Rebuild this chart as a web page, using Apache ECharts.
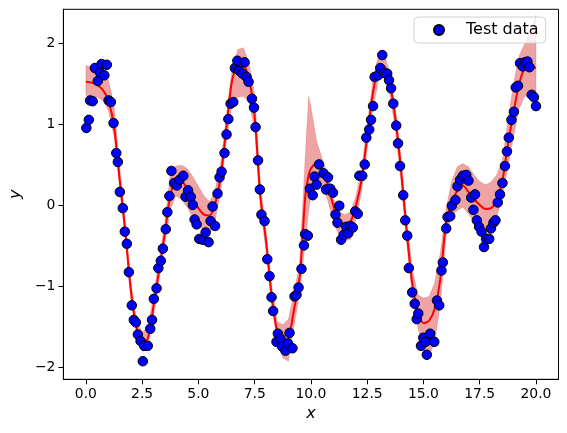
<!DOCTYPE html>
<html>
<head>
<meta charset="utf-8">
<script src="https://cdn.jsdelivr.net/npm/echarts@6/dist/echarts.min.js"></script>
<style>
  html, body { margin: 0; padding: 0; background: #fff; }
  #chart { width: 567px; height: 433px; }
</style>
</head>
<body>
<div id="chart"></div>
<script>
// test points
const testX = [0.02, 0.13, 0.19, 0.30, 0.40, 0.53, 0.62, 0.70, 0.82, 0.93, 1.01, 1.11, 1.23, 1.35, 1.42, 1.51, 1.64, 1.73, 1.82, 1.91,
  2.04, 2.13, 2.22, 2.31, 2.43, 2.53, 2.59, 2.75, 2.86, 2.94, 3.02, 3.14, 3.22, 3.33, 3.42, 3.55, 3.62, 3.71, 3.80, 3.92,
  4.04, 4.16, 4.33, 4.43, 4.54, 4.66, 4.75, 4.83, 4.92, 5.04, 5.19, 5.32, 5.45, 5.54, 5.63, 5.74, 5.85, 5.94, 6.03, 6.16,
  6.25, 6.33, 6.43, 6.55, 6.62, 6.73, 6.80, 6.96, 7.05, 7.14, 7.23, 7.38, 7.47, 7.54, 7.65, 7.73, 7.80, 7.94, 8.06, 8.16,
  8.25, 8.32, 8.47, 8.53, 8.65, 8.72, 8.87, 8.98, 9.05, 9.18, 9.27, 9.36, 9.45, 9.58, 9.69, 9.74, 9.86, 9.95, 10.08, 10.16,
  10.25, 10.36, 10.56, 10.67, 10.76, 10.86, 10.98, 11.09, 11.18, 11.26, 11.34, 11.46, 11.57, 11.66, 11.75, 11.86, 11.97, 12.08, 12.15, 12.28,
  12.39, 12.46, 12.59, 12.67, 12.76, 12.83, 12.98, 13.08, 13.17, 13.26, 13.39, 13.47, 13.56, 13.66, 13.79, 13.87, 13.96, 14.10, 14.19, 14.28,
  14.35, 14.50, 14.61, 14.70, 14.77, 14.89, 14.99, 15.10, 15.15, 15.30, 15.48, 15.60, 15.70, 15.80, 15.86, 16.01, 16.07, 16.19, 16.26, 16.42,
  16.51, 16.63, 16.75, 16.90, 17.00, 17.12, 17.22, 17.29, 17.37, 17.47, 17.58, 17.69, 17.78, 17.92, 18.00, 18.11, 18.20, 18.30, 18.40, 18.51,
  18.62, 18.71, 18.79, 18.91, 19.02, 19.10, 19.20, 19.29, 19.41, 19.51, 19.62, 19.71, 19.81, 19.91, 20.00];
const testY = [0.96, 1.06, 1.30, 1.29, 1.70, 1.54, 1.65, 1.75, 1.61, 1.74, 1.30, 1.28, 1.02, 0.65, 0.54, 0.17, -0.03, -0.32, -0.47, -0.82,
  -1.23, -1.41, -1.44, -1.59, -1.67, -1.92, -1.73, -1.73, -1.52, -1.41, -1.15, -1.02, -0.77, -0.68, -0.53, -0.29, -0.08, 0.12, 0.43, 0.28,
  0.25, 0.32, 0.37, 0.11, 0.19, 0.11, 0.01, -0.17, -0.23, -0.41, -0.42, -0.33, -0.45, -0.19, -0.01, -0.25, 0.15, 0.35, 0.42, 0.65,
  0.88, 1.07, 1.26, 1.28, 1.70, 1.79, 1.67, 1.63, 1.77, 1.59, 1.53, 1.32, 1.21, 0.97, 0.56, 0.20, -0.11, -0.19, -0.66, -0.87,
  -1.13, -1.30, -1.68, -1.58, -1.64, -1.74, -1.79, -1.70, -1.57, -1.76, -1.12, -1.10, -1.01, -0.78, -0.49, -0.35, -0.37, 0.21, 0.13, 0.36,
  0.26, 0.51, 0.40, 0.20, 0.35, 0.21, 0.16, -0.11, -0.21, 0.00, -0.42, -0.36, -0.26, -0.34, -0.25, -0.27, -0.07, -0.10, 0.37, 0.37,
  0.51, 0.84, 0.94, 1.06, 1.23, 1.59, 1.61, 1.70, 1.86, 1.64, 1.63, 1.55, 1.45, 1.26, 0.99, 0.77, 0.49, 0.13, -0.18, -0.37,
  -0.77, -1.07, -1.21, -1.40, -1.33, -1.73, -1.63, -1.68, -1.84, -1.58, -1.68, -1.17, -1.23, -0.80, -0.70, -0.28, -0.14, -0.13, 0.00, 0.07,
  0.24, 0.32, 0.37, 0.38, 0.31, 0.10, -0.05, 0.14, -0.18, -0.26, -0.32, -0.51, -0.41, -0.41, -0.28, -0.21, -0.18, 0.04, 0.14, 0.28,
  0.49, 0.67, 0.84, 1.06, 1.16, 1.46, 1.48, 1.76, 1.72, 1.77, 1.78, 1.71, 1.37, 1.34, 1.23];

// prediction: mean and band
const predX = [0, 0.25, 0.5, 0.75, 1, 1.25, 1.5, 1.75, 2, 2.25, 2.5, 2.75, 3, 3.25, 3.5, 3.75, 4, 4.25, 4.5, 4.75,
  5, 5.25, 5.5, 5.75, 6, 6.25, 6.5, 6.75, 7, 7.25, 7.5, 7.75, 8, 8.25, 8.5, 8.75, 9, 9.25, 9.5, 9.75,
  9.9, 10, 10.25, 10.5, 10.75, 11, 11.25, 11.5, 11.75, 12, 12.25, 12.5, 12.75, 13, 13.25, 13.5, 13.75, 14, 14.25, 14.5,
  14.75, 15, 15.25, 15.5, 15.75, 16, 16.25, 16.5, 16.75, 17, 17.25, 17.5, 17.75, 18, 18.25, 18.5, 18.75, 19, 19.25, 19.5,
  19.75, 20];
const predMean = [1.53, 1.52, 1.49, 1.43, 1.30, 0.98, 0.33, -0.31, -1.05, -1.50, -1.69, -1.64, -1.25, -0.80, -0.36, 0.12, 0.30, 0.30, 0.21, 0.08,
  -0.03, -0.11, -0.12, 0.03, 0.38, 0.98, 1.55, 1.71, 1.72, 1.56, 1.10, 0.12, -0.42, -1.10, -1.55, -1.68, -1.63, -1.28, -0.88, 0.12,
  0.38, 0.46, 0.52, 0.44, 0.26, 0.00, -0.18, -0.23, -0.20, 0.00, 0.32, 0.85, 1.38, 1.70, 1.72, 1.52, 1.08, 0.45, -0.30, -0.95,
  -1.30, -1.45, -1.42, -1.27, -0.90, -0.22, 0.05, 0.18, 0.25, 0.17, 0.08, 0.01, -0.04, -0.03, 0.07, 0.30, 0.75, 1.15, 1.50, 1.70,
  1.72, 1.70];
const predLower = [1.36, 1.36, 1.34, 1.30, 1.18, 0.86, 0.20, -0.42, -1.16, -1.60, -1.80, -1.76, -1.37, -0.92, -0.48, -0.05, 0.12, 0.08, -0.02, -0.15,
  -0.25, -0.31, -0.36, -0.18, 0.20, 0.82, 1.26, 1.34, 1.35, 1.28, 0.93, -0.02, -0.55, -1.23, -1.68, -1.88, -1.92, -1.48, -1.08, -0.45,
  -0.05, 0.12, 0.30, 0.25, 0.06, -0.20, -0.37, -0.43, -0.42, -0.17, 0.18, 0.70, 1.20, 1.55, 1.58, 1.38, 0.94, 0.30, -0.45, -1.12,
  -1.50, -1.80, -1.86, -1.68, -1.22, -0.38, -0.12, -0.06, -0.02, -0.10, -0.20, -0.30, -0.37, -0.34, -0.15, 0.12, 0.48, 0.85, 1.20, 1.35,
  1.35, 1.30];
const predUpper = [1.73, 1.71, 1.69, 1.64, 1.55, 1.25, 0.48, -0.20, -0.94, -1.40, -1.56, -1.50, -1.12, -0.67, -0.22, 0.38, 0.49, 0.50, 0.46, 0.36,
  0.24, 0.12, 0.05, 0.20, 0.55, 1.14, 1.70, 1.93, 1.95, 1.76, 1.38, 0.28, -0.28, -0.97, -1.43, -1.47, -1.40, -1.08, -0.70, 0.62,
  1.35, 1.22, 0.80, 0.58, 0.36, 0.08, -0.07, -0.11, -0.08, 0.12, 0.46, 1.00, 1.55, 1.86, 1.87, 1.66, 1.22, 0.60, -0.15, -0.78,
  -1.10, -1.14, -1.12, -0.95, -0.58, -0.05, 0.30, 0.48, 0.52, 0.48, 0.38, 0.30, 0.26, 0.29, 0.38, 0.55, 1.05, 1.50, 1.85, 2.00,
  2.15, 2.35];

const xTicks = [0, 2.5, 5, 7.5, 10, 12.5, 15, 17.5, 20];
const yTicks = [-2, -1, 0, 1, 2];

const chart = echarts.init(document.getElementById('chart'));

const tickFont = { fontFamily: 'DejaVu Sans', fontSize: 13.9, color: '#000' };

const option = {
  animation: false,
  grid: { left: 62.7, right: 8.5, top: 9.3, bottom: 53.7, show: true, borderColor: '#000', borderWidth: 1, backgroundColor: 'transparent' },
  legend: {
    data: ['Test data'],
    left: 414, top: 17,
    padding: [5, 7, 5, 19],
    itemWidth: 10, itemHeight: 10,
    backgroundColor: 'rgba(255,255,255,0.8)',
    borderColor: '#d0d0d0', borderWidth: 1, borderRadius: 4,
    textStyle: { fontFamily: 'DejaVu Sans', fontSize: 16, color: '#000', padding: [0, 0, 0, 17] }
  },
  xAxis: {
    type: 'value', min: -1, max: 21,
    name: 'x', nameLocation: 'middle', nameGap: 27,
    nameTextStyle: { fontFamily: 'DejaVu Sans', fontStyle: 'italic', fontSize: 16, color: '#000' },
    axisLine: { onZero: false, lineStyle: { color: '#000', width: 1 } },
    axisTick: { inside: false, length: 5, lineStyle: { color: '#000' }, customValues: xTicks },
    axisLabel: { ...tickFont, margin: 8, customValues: xTicks, formatter: v => v.toFixed(1) },
    splitLine: { show: false }
  },
  yAxis: {
    type: 'value', min: -2.143, max: 2.425,
    name: 'y', nameLocation: 'middle', nameGap: 38,
    nameTextStyle: { fontFamily: 'DejaVu Sans', fontStyle: 'italic', fontSize: 16, color: '#000' },
    axisLine: { show: true, onZero: false, lineStyle: { color: '#000', width: 1 } },
    axisTick: { show: true, inside: false, length: 5, lineStyle: { color: '#000' }, customValues: yTicks },
    axisLabel: { ...tickFont, margin: 8, customValues: yTicks, formatter: v => String(v).replace('-', '\u2212') },
    splitLine: { show: false }
  },
  series: [
    {
      name: 'band',
      type: 'custom',
      silent: true,
      z: 1,
      data: predX.map((x, i) => [x, predLower[i], predUpper[i]]),
      encode: { x: 0, y: [1, 2] },
      renderItem: function (params, api) {
        if (params.dataIndex !== 0) return;
        const pts = [];
        for (let i = 0; i < predX.length; i++) pts.push(api.coord([predX[i], predUpper[i]]));
        for (let i = predX.length - 1; i >= 0; i--) pts.push(api.coord([predX[i], predLower[i]]));
        return {
          type: 'polygon',
          shape: { points: pts },
          style: { fill: 'rgba(214,39,40,0.42)', stroke: 'rgba(214,39,40,0.2)', lineWidth: 1 }
        };
      }
    },
    {
      name: 'mean',
      type: 'line',
      z: 2,
      data: predX.map((x, i) => [x, predMean[i]]),
      smooth: 0.3,
      showSymbol: false,
      silent: true,
      lineStyle: { color: '#ff0000', width: 2 }
    },
    {
      name: 'Test data',
      type: 'scatter',
      z: 3,
      data: testX.map((x, i) => [x, testY[i]]),
      symbol: 'circle',
      symbolSize: 9.5,
      itemStyle: { color: '#0000ff', borderColor: '#000', borderWidth: 1, opacity: 1 }
    }
  ]
};
chart.setOption(option);
</script>
</body>
</html>
